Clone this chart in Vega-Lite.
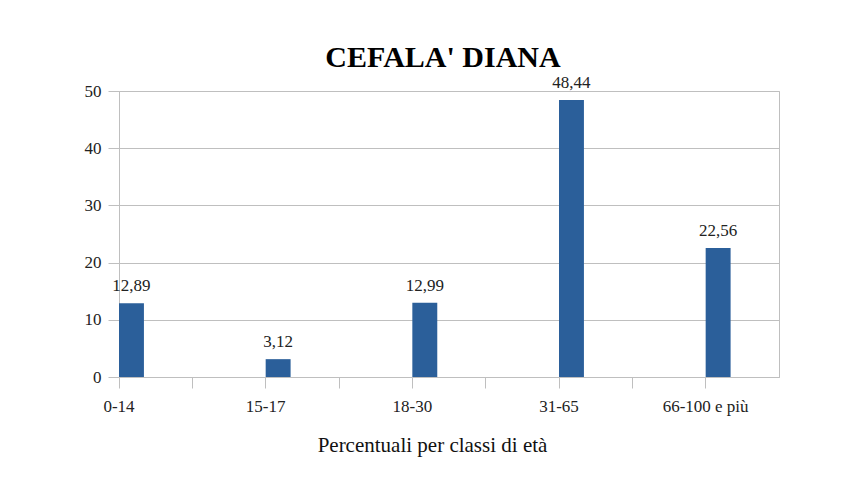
{
  "$schema": "https://vega.github.io/schema/vega-lite/v6.json",
  "width": 660,
  "height": 286,
  "autosize": {"type": "none"},
  "padding": {"left": 119, "top": 91, "right": 82, "bottom": 104},
  "background": "white",
  "config": {
    "locale": {"number": {"decimal": ",", "thousands": ".", "grouping": [3], "currency": ["", " €"]}},
    "font": "Liberation Serif, serif",
    "view": {"stroke": "#BFBFBF", "strokeWidth": 1}
  },
  "title": {
    "text": "CEFALA' DIANA",
    "font": "Liberation Serif, serif",
    "fontSize": 30,
    "fontWeight": "bold",
    "color": "#000000",
    "anchor": "middle",
    "offset": 1,
    "dx": -6
  },
  "data": {
    "values": [
      {"classe": "0-14", "valore": 12.89},
      {"classe": "15-17", "valore": 3.12},
      {"classe": "18-30", "valore": 12.99},
      {"classe": "31-65", "valore": 48.44},
      {"classe": "66-100 e più", "valore": 22.56}
    ]
  },
  "encoding": {
    "x": {
      "field": "classe",
      "type": "nominal",
      "sort": null,
      "scale": {
        "domain": ["0-14", "_a", "15-17", "_b", "18-30", "_c", "31-65", "_d", "66-100 e più"],
        "paddingInner": 0,
        "paddingOuter": 0
      },
      "axis": {
        "title": "Percentuali per classi di età",
        "titleFont": "Liberation Serif, serif",
        "titleFontSize": 21,
        "titleFontWeight": "normal",
        "titleColor": "#111111",
        "titlePadding": 20,
        "titleX": 313,
        "bandPosition": 0,
        "labelAngle": 0,
        "labelOffset": -36.7,
        "labelFont": "Liberation Serif, serif",
        "labelFontSize": 17,
        "labelColor": "#222222",
        "labelPadding": 10,
        "labelExpr": "indexof(datum.value, '_') == 0 ? '' : datum.value",
        "tickSize": 11,
        "tickColor": "#BFBFBF",
        "domainColor": "#BFBFBF",
        "grid": false
      }
    },
    "y": {
      "field": "valore",
      "type": "quantitative",
      "scale": {"domain": [0, 50], "nice": false},
      "axis": {
        "title": null,
        "values": [0, 10, 20, 30, 40, 50],
        "format": "d",
        "labelFont": "Liberation Serif, serif",
        "labelFontSize": 17,
        "labelColor": "#222222",
        "labelPadding": 7,
        "tickSize": 11,
        "tickColor": "#BFBFBF",
        "domainColor": "#BFBFBF",
        "gridColor": "#BFBFBF",
        "grid": true
      }
    }
  },
  "layer": [
    {
      "mark": {"type": "bar", "color": "#2B5F9A", "width": {"band": 0.34}, "xOffset": -24.2}
    },
    {
      "mark": {"type": "text", "baseline": "bottom", "dy": -8, "xOffset": -24.2, "fontSize": 17, "font": "Liberation Serif, serif", "color": "#222222"},
      "encoding": {"text": {"field": "valore", "type": "quantitative", "format": ".2f"}}
    }
  ]
}
